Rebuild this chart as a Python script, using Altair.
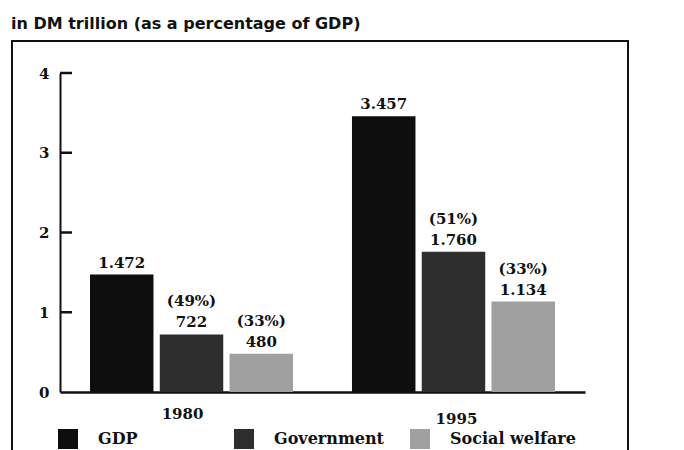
import altair as alt
import pandas as pd

# Values in DM billion
years = ["1980", "1995"]
series = ["GDP", "Government", "Social welfare"]
gdp = [1472, 3457]
government = [722, 1760]
social_welfare = [480, 1134]
y_ticks = [0, 1, 2, 3, 4]
colors = ["#0e0e0e", "#2e2e2e", "#a0a0a0"]

INK = "#111111"
SERIF = "DejaVu Serif"


def de_num(v):
    """German style thousands separator: 1472 -> 1.472"""
    return f"{v:,}".replace(",", ".")


rows = []
for i, yr in enumerate(years):
    for s, vals in zip(series, [gdp, government, social_welfare]):
        v = vals[i]
        pct = "" if s == "GDP" else f"({round(100 * v / gdp[i])}%)"
        rows.append(
            {"year": yr, "series": s, "trillion": v / 1000,
             "value_text": de_num(v), "pct_text": pct}
        )
df = pd.DataFrame(rows)

y_scale = alt.Scale(domain=[0, 4], nice=False, zero=True)
y_axis = alt.Axis(
    values=y_ticks,
    format="d",
    ticks=False,
    grid=False,
    domainWidth=2,
    domainColor=INK,
    labelPadding=11,
    labelFont=SERIF,
    labelFontWeight="bold",
    labelFontSize=15,
    labelColor=INK,
)

x_enc = alt.X(
    "year:N",
    sort=years,
    title=None,
    scale=alt.Scale(paddingInner=0.225, paddingOuter=0.1145),
    axis=alt.Axis(
        labelAngle=0,
        ticks=False,
        domainWidth=2.5,
        domainColor=INK,
        labelFont=SERIF,
        labelFontWeight="bold",
        labelFontSize=15,
        labelColor=INK,
        labelPadding=alt.ExprRef("datum.value == '1980' ? 14 : 19"),
        labelOffset=alt.ExprRef("datum.value == '1980' ? -9 : 3"),
    ),
)
xoff_enc = alt.XOffset(
    "series:N", sort=series, scale=alt.Scale(paddingInner=0.09, paddingOuter=0)
)
y_enc = alt.Y("trillion:Q", scale=y_scale, title=None, axis=y_axis)

bars = alt.Chart(df).mark_bar().encode(
    x=x_enc,
    xOffset=xoff_enc,
    y=y_enc,
    color=alt.Color(
        "series:N",
        sort=series,
        scale=alt.Scale(domain=series, range=colors),
        legend=alt.Legend(
            title=None,
            orient="none",
            legendX=-2,
            legendY=356,
            direction="horizontal",
            columns=3,
            gridAlign="all",
            symbolType="square",
            symbolSize=400,
            symbolStrokeWidth=0,
            labelFont=SERIF,
            labelFontWeight="bold",
            labelFontSize=16,
            labelColor=INK,
            labelOffset=20,
            columnPadding=10,
            labelLimit=300,
        ),
    ),
)

text_style = dict(
    baseline="bottom", font=SERIF, fontWeight="bold", fontSize=15, color=INK
)

# value line directly above each bar
value_labels = alt.Chart(df).mark_text(dy=-4, **text_style).encode(
    x=x_enc, xOffset=xoff_enc, y=y_enc, text="value_text:N"
)
# share of GDP, one line higher
pct_labels = alt.Chart(df).mark_text(dy=-25, **text_style).encode(
    x=x_enc, xOffset=xoff_enc, y=y_enc, text="pct_text:N"
)

# short inward ticks on the value axis
tick_marks = alt.Chart(pd.DataFrame({"trillion": y_ticks[1:]})).mark_rule(
    strokeWidth=2.5, color=INK
).encode(
    y=y_enc,
    x=alt.value(0),
    x2=alt.value(12),
)

# box around the figure
frame = alt.Chart(pd.DataFrame({"k": [0]})).mark_rect(
    filled=False, stroke=INK, strokeWidth=2
).encode(
    x=alt.value(-48),
    x2=alt.value(568),
    y=alt.value(-32),
    y2=alt.value(420),
)

chart = (
    alt.layer(frame, bars, value_labels, pct_labels, tick_marks)
    .properties(
        width=525,
        height=319,
        background="white",
        autosize=alt.AutoSizeParams(type="none"),
        padding={"left": 60, "top": 73, "right": 99, "bottom": 58},
        title=alt.TitleParams(
            "in DM trillion (as a percentage of GDP)",
            anchor="start",
            font="DejaVu Sans",
            fontSize=16,
            fontWeight="bold",
            color=INK,
            baseline="alphabetic",
            dy=17,
            offset=12,
        ),
    )
    .configure_view(stroke=None)
)

chart.save("out.html", embed_options={"renderer": "svg", "actions": False})
